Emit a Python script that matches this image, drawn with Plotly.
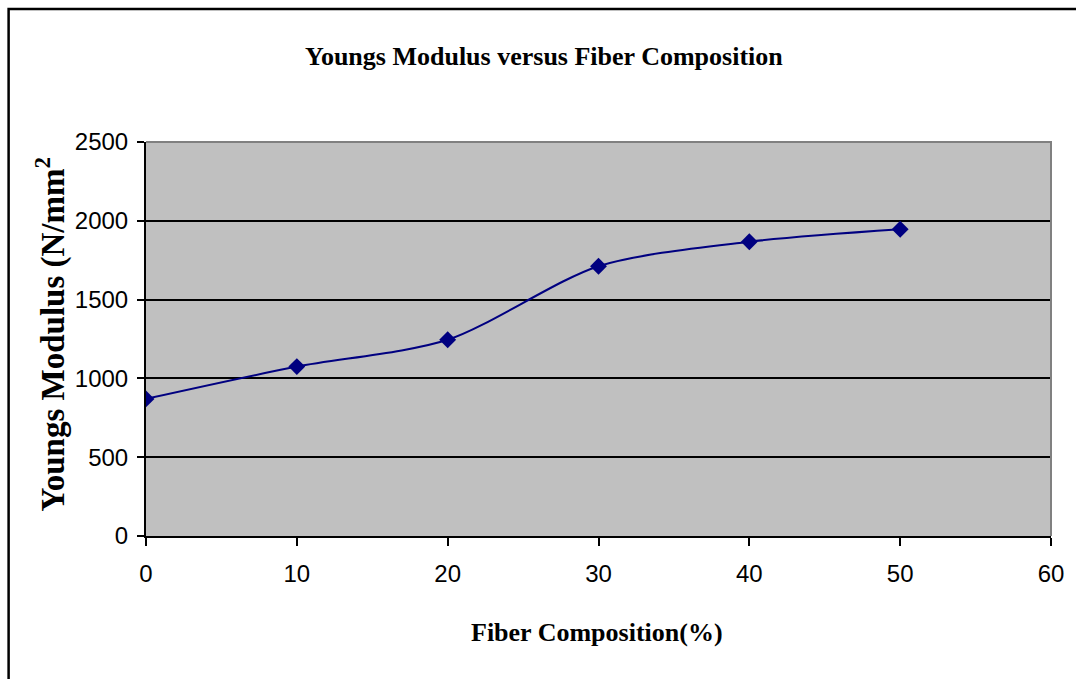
import plotly.graph_objects as go

# Fiber composition (%) and measured Young's modulus (N/mm^2)
fiber_pct = [0, 10, 20, 30, 40, 50]
youngs_modulus = [870, 1075, 1245, 1712, 1867, 1946]

x_ticks = [0, 10, 20, 30, 40, 50, 60]
y_ticks = [0, 500, 1000, 1500, 2000, 2500]

title_text = "Youngs Modulus versus Fiber Composition"
x_title = "Fiber Composition(%)"
y_title = "Youngs Modulus (N/mm<sup>2</sup>"

W, H = 1076, 679
L, R, T, B = 146, 21, 142, 143
PW, PH = W - L - R, H - T - B


def px_x(px):
    return (px - L) / PW


def px_y(py):
    return (H - B - py) / PH


fig = go.Figure()
fig.add_trace(go.Scatter(
    x=fiber_pct, y=youngs_modulus,
    mode="lines+markers",
    line=dict(color="#000080", width=2, shape="spline", smoothing=0.8),
    marker=dict(symbol="diamond", size=13, color="#000080"),
    showlegend=False,
))

axis_font = dict(family="Liberation Sans Narrow, Arial Narrow, Liberation Sans",
                 size=24, color="black")
serif_bold = dict(family="Liberation Serif, Times New Roman", color="black")

fig.update_layout(
    width=W, height=H,
    margin=dict(l=L, r=R, t=T, b=B),
    paper_bgcolor="white",
    plot_bgcolor="#C0C0C0",
    xaxis=dict(
        range=[0, 60], tickvals=x_ticks, ticks="outside", ticklen=8,
        tickcolor="black", tickwidth=1.5, showline=True, linecolor="black",
        linewidth=2, showgrid=False, zeroline=False, tickfont=axis_font,
        ticklabelstandoff=7,
    ),
    yaxis=dict(
        range=[0, 2500], tickvals=y_ticks, ticks="outside", ticklen=7,
        tickcolor="black", tickwidth=1.5, showline=True, linecolor="black",
        linewidth=2, showgrid=True, gridcolor="black", gridwidth=2,
        zeroline=False, tickfont=axis_font, ticklabelstandoff=4,
    ),
    shapes=[
        # grey frame on the top and right of the plot area
        dict(type="path", xref="paper", yref="paper",
             path="M 0 1 L 1 1 L 1 0", line=dict(color="#808080", width=2),
             layer="above"),
        # outer chart border (top and left edges)
        dict(type="path", xref="paper", yref="paper",
             path=f"M {px_x(8)} {px_y(700)} L {px_x(8)} {px_y(9)} L {px_x(1100)} {px_y(9)}",
             line=dict(color="black", width=2.5)),
    ],
    annotations=[
        dict(text=f"<b>{title_text}</b>", xref="paper", yref="paper",
             x=px_x(546), y=px_y(57), xanchor="center", yanchor="middle",
             showarrow=False, font=dict(size=26, **serif_bold)),
        dict(text=f"<b>{x_title}</b>", xref="paper", yref="paper",
             x=px_x(599), y=px_y(632), xanchor="center", yanchor="middle",
             showarrow=False, font=dict(size=26, **serif_bold)),
        dict(text=f"<b>{y_title}</b>", xref="paper", yref="paper",
             x=px_x(50), y=px_y(334), xanchor="center", yanchor="middle",
             showarrow=False, textangle=-90,
             font=dict(size=33, **serif_bold)),
    ],
)

fig.write_html("out.html")
